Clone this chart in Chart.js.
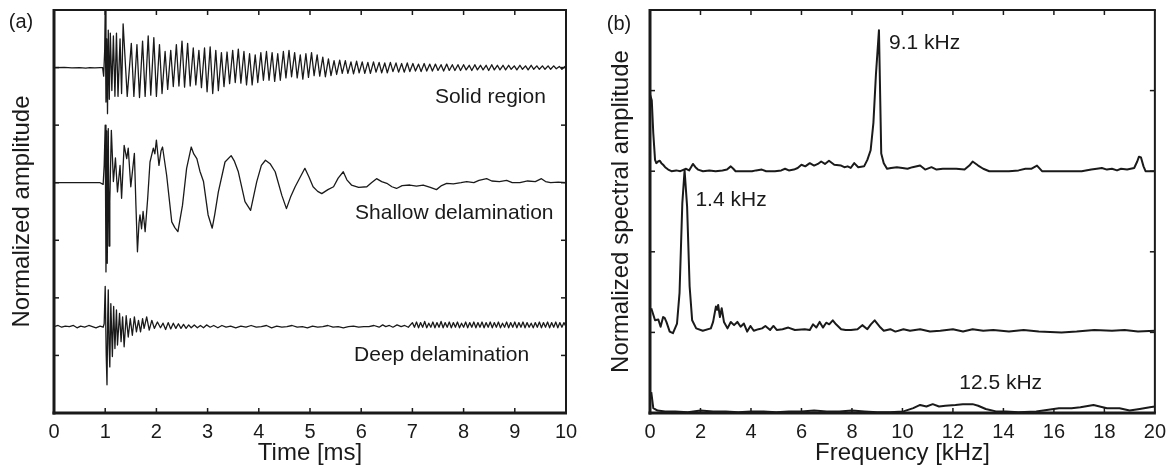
<!DOCTYPE html>
<html><head><meta charset="utf-8">
<script src="https://cdn.jsdelivr.net/npm/chart.js@4.4.0/dist/chart.umd.min.js"></script>
<style>
html,body{margin:0;padding:0;background:#fff;}
#wrap{position:relative;width:1173px;height:468px;overflow:hidden;}
#ca{position:absolute;left:0;top:0;}
#cb{position:absolute;left:590px;top:0;}
</style></head><body>
<div id="wrap"><canvas id="ca" width="590" height="468"></canvas><canvas id="cb" width="583" height="468"></canvas></div>
<script>
// ---------- Panel (a): time signals [time ms, plotted amplitude] ----------
const timeTicks = [0,1,2,3,4,5,6,7,8,9,10];
const solidRegion = [[0,6],[0.2,6.005],[0.35,5.995],[0.5,6.0],[0.62,5.99],[0.7,6.0],[0.8,5.995],[0.9,6.0],[0.95,6.0],
[0.97,5.85],[0.99,6.3],[1.0,7.0],[1.015,5.4],[1.03,6.5],[1.045,5.2],[1.06,6.65],[1.08,5.45],[1.1,6.6],[1.13,5.6],[1.16,6.55],[1.19,5.5],[1.22,6.6],[1.25,5.5],[1.29,6.5],[1.32,5.55],[1.35,6.76],[1.43,5.5],
[1.51,6.42],[1.56,5.50],[1.62,6.40],[1.67,5.48],[1.73,6.46],[1.78,5.50],[1.84,6.55],[1.89,5.52],[1.95,6.52],[2.00,5.50],
[2.06,6.40],[2.11,5.55],[2.17,6.28],[2.22,5.62],[2.28,6.30],[2.33,5.67],[2.39,6.40],[2.44,5.68],[2.50,6.46],[2.55,5.66],
[2.61,6.42],[2.66,5.68],[2.72,6.34],[2.77,5.70],[2.83,6.30],[2.88,5.65],[2.94,6.34],[2.99,5.58],[3.05,6.36],[3.10,5.55],
[3.16,6.30],[3.21,5.60],[3.27,6.26],[3.32,5.67],[3.38,6.27],[3.43,5.72],[3.49,6.30],[3.54,5.74],[3.60,6.32],[3.65,5.73],
[3.71,6.28],[3.76,5.70],[3.82,6.24],[3.87,5.70],[3.93,6.22],[3.98,5.74],[4.04,6.26],[4.09,5.78],[4.15,6.28],[4.20,5.78],
[4.26,6.26],[4.31,5.76],[4.37,6.24],[4.42,5.78],[4.48,6.28],[4.53,5.82],[4.59,6.30],[4.64,5.84],[4.70,6.26],[4.75,5.82],
[4.81,6.22],[4.86,5.80],[4.92,6.24],[4.97,5.83],[5.03,6.26],[5.08,5.86],[5.14,6.22],[5.19,5.85],[5.25,6.18],[5.30,5.84],
[5.36,6.15],[5.41,5.86],[5.47,6.12],[5.52,5.88],[5.58,6.13],[5.63,5.90],[5.69,6.12],[5.74,5.90],[5.80,6.10],[5.85,5.89],
[5.91,6.11],[5.96,5.91],[6.02,6.10],[6.07,5.90],[6.13,6.09],[6.18,5.90],[6.24,6.10],[6.29,5.92],[6.35,6.09],[6.40,5.91],
[6.46,6.08],[6.51,5.91],[6.57,6.09],[6.62,5.93],[6.68,6.08],[6.73,5.92],[6.79,6.07],[6.84,5.92],[6.90,6.08],[6.95,5.93],
[7.01,6.07],[7.06,5.94],[7.12,6.06],[7.17,5.93],[7.23,6.07],[7.28,5.94],[7.34,6.06],[7.39,5.94],[7.45,6.06],[7.50,5.95],
[7.56,6.05],[7.61,5.94],[7.67,6.06],[7.72,5.95],[7.78,6.05],[7.83,5.95],[7.89,6.05],[7.94,5.95],[8.00,6.05],[8.05,5.96],
[8.11,6.04],[8.16,5.95],[8.22,6.05],[8.27,5.96],[8.33,6.04],[8.38,5.96],[8.44,6.04],[8.49,5.95],[8.55,6.05],[8.60,5.96],
[8.66,6.04],[8.71,5.96],[8.77,6.04],[8.82,5.96],[8.88,6.04],[8.93,5.97],[8.99,6.03],[9.04,5.96],[9.10,6.04],[9.15,5.97],
[9.21,6.03],[9.26,5.96],[9.32,6.04],[9.37,5.97],[9.43,6.03],[9.48,5.97],[9.54,6.03],[9.59,5.97],[9.65,6.03],[9.70,5.97],
[9.76,6.03],[9.81,5.98],[9.87,6.02],[9.92,5.97],[9.98,6.02],[10,6.0]];
const shallowDelam = [[0,4],[0.3,4.0],[0.6,4.0],[0.9,4.0],[0.96,3.97],
[0.98,4.3],[1.0,5.0],[1.015,2.45],[1.03,4.9],[1.04,2.6],[1.06,4.94],[1.075,2.9],[1.09,3.67],[1.12,4.91],[1.16,4.02],[1.2,4.43],[1.24,3.84],[1.29,4.3],[1.32,3.73],[1.37,4.65],[1.42,4.42],[1.45,4.6],[1.5,3.93],[1.57,4.51],[1.6,3.61],[1.63,2.8],[1.66,3.3],[1.68,3.44],[1.71,3.2],[1.74,3.5],[1.78,3.15],[1.83,3.73],[1.875,4.36],[1.94,4.6],[1.97,4.5],[2.0,4.74],[2.05,4.3],[2.09,4.55],[2.12,4.62],[2.2,4.13],[2.3,3.32],[2.36,3.22],[2.42,3.15],[2.51,3.61],[2.59,4.25],[2.68,4.62],[2.73,4.5],[2.79,4.42],[2.85,4.2],[2.92,4.02],[3.01,3.44],[3.09,3.21],[3.14,3.45],[3.21,3.84],[3.34,4.36],[3.46,4.47],[3.52,4.38],[3.6,4.19],[3.73,3.67],[3.84,3.52],[3.96,4.02],[4.05,4.3],[4.13,4.39],[4.22,4.33],[4.32,4.19],[4.45,3.78],[4.54,3.55],[4.62,3.75],[4.71,3.93],[4.9,4.25],[4.98,4.1],[5.06,3.93],[5.15,3.85],[5.23,3.81],[5.35,3.88],[5.46,3.93],[5.55,4.08],[5.65,4.19],[5.72,4.05],[5.81,3.96],[5.95,3.92],[6.11,3.93],[6.2,4.0],[6.3,4.07],[6.4,4.02],[6.5,3.99],[6.6,3.93],[6.69,3.9],[6.8,3.95],[6.95,3.96],[7.08,3.94],[7.21,3.96],[7.35,3.92],[7.47,3.88],[7.57,3.95],[7.67,3.99],[7.8,3.98],[7.95,4.0],[8.06,4.02],[8.2,4.0],[8.3,4.04],[8.45,4.07],[8.55,4.03],[8.7,4.02],[8.84,4.04],[8.95,4.0],[9.1,4.0],[9.25,4.03],[9.4,4.02],[9.52,4.07],[9.6,4.02],[9.7,4.0],[9.85,4.01],[10,4.0]];
const deepDelam = [[0,1.5],[0.08,1.52],[0.15,1.49],[0.22,1.51],[0.3,1.5],[0.38,1.52],[0.45,1.48],[0.52,1.51],[0.6,1.49],[0.68,1.52],[0.75,1.5],[0.82,1.48],[0.9,1.51],[0.96,1.49],
[0.98,1.55],[1.0,2.2],[1.02,1.0],[1.035,0.49],[1.05,1.7],[1.06,2.14],[1.075,1.2],[1.09,0.8],[1.11,1.9],[1.14,0.98],[1.165,1.85],[1.19,1.12],[1.22,1.79],[1.24,1.18],[1.28,1.73],[1.31,1.24],[1.34,1.67],[1.37,1.15],[1.41,1.69],[1.45,1.32],[1.49,1.64],[1.53,1.35],[1.57,1.67],[1.61,1.41],[1.65,1.61],[1.69,1.41],[1.73,1.64],[1.76,1.47],[1.81,1.67],[1.86,1.44],[1.91,1.61],[1.96,1.47],[2.02,1.58],[2.08,1.48],[2.13,1.56],[2.18,1.45],[2.23,1.57],[2.28,1.46],[2.33,1.56],[2.38,1.47],[2.43,1.55],[2.48,1.47],[2.53,1.54],[2.58,1.47],[2.63,1.53],[2.68,1.48],[2.74,1.53],[2.8,1.48],[2.86,1.52],[2.92,1.48],[2.98,1.53],[3.05,1.49],[3.12,1.52],[3.2,1.48],[3.28,1.52],[3.36,1.49],[3.45,1.51],[3.55,1.48],[3.65,1.51],[3.75,1.49],[3.85,1.52],[3.95,1.49],[4.05,1.5],[4.15,1.52],[4.25,1.48],[4.35,1.51],[4.45,1.49],[4.55,1.5],[4.65,1.52],[4.75,1.49],[4.85,1.5],[4.95,1.48],[5.05,1.51],[5.15,1.49],[5.25,1.5],[5.35,1.52],[5.45,1.49],[5.55,1.5],[5.65,1.48],[5.75,1.5],[5.85,1.51],[5.95,1.49],[6.05,1.5],[6.15,1.5],[6.25,1.52],[6.35,1.49],[6.42,1.53],[6.48,1.5],[6.55,1.52],[6.62,1.49],[6.7,1.53],[6.78,1.5],[6.85,1.52],[6.92,1.49],
[7.00,1.57],[7.04,1.49],[7.08,1.58],[7.12,1.48],[7.16,1.57],[7.20,1.49],[7.24,1.59],[7.28,1.48],[7.32,1.56],[7.36,1.49],[7.40,1.58],[7.44,1.48],[7.48,1.57],[7.52,1.49],[7.56,1.59],[7.60,1.48],[7.64,1.57],[7.68,1.49],[7.72,1.58],[7.76,1.48],[7.80,1.57],[7.84,1.49],[7.88,1.58],[7.92,1.48],[7.96,1.56],[8.00,1.49],[8.04,1.58],[8.08,1.48],[8.12,1.57],[8.16,1.49],[8.20,1.58],[8.24,1.48],[8.28,1.57],[8.32,1.49],[8.36,1.58],[8.40,1.48],[8.44,1.57],[8.48,1.49],[8.52,1.58],[8.56,1.48],[8.60,1.57],[8.64,1.49],[8.68,1.58],[8.72,1.48],[8.76,1.56],[8.80,1.49],[8.84,1.58],[8.88,1.48],[8.92,1.57],[8.96,1.49],[9.00,1.58],[9.04,1.48],[9.08,1.57],[9.12,1.49],[9.16,1.58],[9.20,1.48],[9.24,1.57],[9.28,1.49],[9.32,1.56],[9.36,1.48],[9.40,1.57],[9.44,1.49],[9.48,1.58],[9.52,1.48],[9.56,1.57],[9.60,1.49],[9.64,1.58],[9.68,1.48],[9.72,1.57],[9.76,1.49],[9.80,1.58],[9.84,1.48],[9.88,1.57],[9.92,1.49],[9.96,1.57],[10.00,1.5]];

// ---------- Panel (b): spectra [frequency kHz, plotted amplitude] ----------
const freqTicks = [0,2,4,6,8,10,12,14,16,18,20];
const solidSpectrum = [[0,3.95],[0.07,3.88],[0.13,3.47],[0.2,3.14],[0.25,3.1],[0.32,3.12],[0.39,3.13],[0.45,3.1],[0.52,3.08],[0.6,3.05],[0.72,3.02],[0.85,3.0],[1.04,3.01],[1.2,3.0],[1.43,3.03],[1.55,3.01],[1.7,3.09],[1.8,3.05],[1.9,3.02],[2.1,3.0],[2.35,3.01],[2.6,3.0],[2.87,3.01],[3.05,3.02],[3.2,3.06],[3.3,3.03],[3.39,3.0],[3.7,3.0],[4.04,3.0],[4.2,3.01],[4.43,3.02],[4.6,3.0],[4.95,3.0],[5.2,3.01],[5.35,3.03],[5.5,3.01],[5.7,3.02],[5.85,3.04],[6.0,3.08],[6.15,3.06],[6.33,3.1],[6.5,3.07],[6.65,3.09],[6.78,3.12],[6.93,3.09],[7.09,3.13],[7.3,3.08],[7.57,3.07],[7.7,3.05],[7.83,3.06],[7.95,3.04],[8.09,3.1],[8.25,3.05],[8.48,3.06],[8.61,3.14],[8.74,3.26],[8.85,3.6],[8.95,4.2],[9.07,4.75],[9.16,3.22],[9.26,3.1],[9.39,3.03],[9.55,3.04],[9.78,3.05],[10.0,3.04],[10.2,3.03],[10.4,3.05],[10.7,3.07],[10.9,3.02],[11.15,3.05],[11.35,3.02],[11.6,3.03],[11.85,3.03],[12.13,3.03],[12.46,3.02],[12.65,3.07],[12.78,3.12],[13.0,3.07],[13.2,3.03],[13.44,3.0],[13.8,3.0],[14.22,3.0],[14.6,3.01],[14.87,3.03],[15.1,3.03],[15.33,3.07],[15.53,3.0],[15.9,3.0],[16.31,3.0],[16.7,3.0],[17.1,3.0],[17.48,3.02],[17.7,3.03],[17.9,3.04],[18.1,3.02],[18.3,3.03],[18.5,3.01],[18.66,3.03],[18.9,3.02],[19.18,3.04],[19.3,3.12],[19.37,3.18],[19.45,3.17],[19.55,3.06],[19.63,3.0],[20,3.0]];
const shallowSpectrum = [[0.05,1.3],[0.2,1.15],[0.33,1.16],[0.42,1.07],[0.52,1.19],[0.58,1.18],[0.65,1.13],[0.78,1.01],[0.91,0.99],[1.07,1.11],[1.17,1.49],[1.28,2.6],[1.37,3.01],[1.47,2.56],[1.57,1.57],[1.67,1.15],[1.83,1.05],[2.09,1.02],[2.41,1.05],[2.5,1.13],[2.61,1.32],[2.66,1.28],[2.7,1.34],[2.77,1.19],[2.84,1.3],[2.93,1.13],[3.07,1.05],[3.2,1.13],[3.33,1.09],[3.46,1.13],[3.59,1.07],[3.72,1.11],[3.85,1.01],[3.98,1.08],[4.11,1.02],[4.3,1.04],[4.44,1.05],[4.57,1.08],[4.76,1.03],[4.89,1.08],[5.02,1.03],[5.25,1.04],[5.48,1.06],[5.74,1.03],[6.13,1.04],[6.33,1.03],[6.46,1.1],[6.59,1.06],[6.72,1.13],[6.85,1.06],[6.98,1.12],[7.1,1.1],[7.24,1.15],[7.37,1.1],[7.57,1.04],[7.75,1.03],[7.96,1.03],[8.22,1.04],[8.41,1.09],[8.61,1.04],[8.75,1.1],[8.9,1.15],[9.13,1.06],[9.26,1.02],[9.52,1.04],[9.72,1.01],[10.04,1.04],[10.3,1.02],[10.7,1.04],[11.09,1.01],[11.5,1.02],[12.0,1.04],[12.4,1.01],[12.78,1.04],[13.2,1.02],[13.6,1.03],[14.22,1.01],[14.8,1.03],[15.4,1.01],[16.3,1.0],[16.9,1.01],[17.6,1.03],[18.3,1.02],[18.8,1.03],[19.33,1.01],[20,1.02]];
const deepSpectrum = [[0.05,0.26],[0.13,0.06],[0.3,0.03],[0.6,0.02],[1.0,0.02],[1.5,0.01],[2.0,0.03],[2.5,0.02],[3.0,0.02],[3.5,0.01],[4.0,0.02],[4.5,0.02],[5.0,0.01],[5.5,0.02],[6.0,0.02],[6.5,0.03],[7.0,0.02],[7.5,0.02],[8.0,0.03],[8.5,0.02],[9.0,0.01],[9.5,0.01],[10.04,0.02],[10.43,0.06],[10.7,0.1],[10.95,0.08],[11.2,0.11],[11.45,0.08],[11.7,0.09],[12.1,0.1],[12.39,0.11],[12.78,0.11],[13.0,0.09],[13.3,0.05],[13.7,0.02],[14.1,0.02],[14.6,0.01],[15.3,0.02],[16.2,0.06],[16.7,0.06],[17.05,0.07],[17.57,0.1],[18.1,0.06],[18.6,0.06],[19.0,0.03],[19.4,0.05],[19.8,0.07],[20,0.08]];

const FONT = "'Liberation Sans', Arial, Helvetica, sans-serif";
const INK = '#1a1a1a';

function pts(arr){ return arr.map(p => ({x:p[0], y:p[1]})); }

const framePlugin = {
  id: 'frame',
  afterDatasetsDraw(chart, args, opts) {
    const {ctx, chartArea:a, scales:{x, y}} = chart;
    ctx.save();
    ctx.strokeStyle = INK;
    ctx.lineCap = 'butt';
    const seg = (x1,y1,x2,y2) => { ctx.beginPath(); ctx.moveTo(x1,y1); ctx.lineTo(x2,y2); ctx.stroke(); };
    const tl = 5;
    ctx.lineWidth = 1.5;
    x.ticks.forEach(t => {
      if (t.value <= x.min || t.value >= x.max) return;
      const px = x.getPixelForValue(t.value);
      seg(px, a.bottom, px, a.bottom - tl);
      seg(px, a.top, px, a.top + tl);
    });
    y.ticks.forEach(t => {
      if (t.value <= y.min || t.value >= y.max) return;
      const py = y.getPixelForValue(t.value);
      seg(a.left, py, a.left + tl, py);
      seg(a.right, py, a.right - tl, py);
    });
    ctx.lineWidth = 2;
    seg(a.left, a.top, a.right + 1, a.top);
    seg(a.right, a.top, a.right, a.bottom);
    ctx.lineWidth = 3;
    seg(a.left, a.top - 1, a.left, a.bottom + 1.5);
    seg(a.left - 1.5, a.bottom, a.right + 1, a.bottom);
    // annotations
    ctx.fillStyle = INK;
    ctx.textBaseline = 'middle';
    ctx.textAlign = 'left';
    ctx.font = '21px ' + FONT;
    (opts.notes || []).forEach(n => {
      ctx.fillText(n.text, x.getPixelForValue(n.x), y.getPixelForValue(n.y));
    });
    ctx.font = '20px ' + FONT;
    ctx.textAlign = 'center';
    ctx.fillText(opts.panel, opts.panelX, opts.panelY);
    ctx.restore();
  }
};

function makeChart(id, cfg) {
  return new Chart(document.getElementById(id), {
    type: 'scatter',
    data: { datasets: cfg.series.map(s => ({
      data: pts(s), showLine: true, pointRadius: 0, borderColor: INK, borderWidth: cfg.lw,
      borderJoinStyle: 'round', tension: 0, fill: false
    })) },
    options: {
      responsive: false, animation: false, events: [],
      layout: { padding: { top: 10, right: cfg.padR, bottom: 0, left: 0 } },
      plugins: { legend: {display:false}, tooltip: {enabled:false},
        frame: { notes: cfg.notes, panel: cfg.panel, panelX: cfg.panelX, panelY: cfg.panelY } },
      scales: {
        x: { type: 'linear', min: cfg.xmin, max: cfg.xmax,
          afterBuildTicks: s => { s.ticks = cfg.xticks.map(v => ({value: v})); },
          ticks: { color: INK, font: {family: FONT, size: 20}, padding: 7, maxRotation: 0, autoSkip: false },
          grid: { display: false, drawTicks: false }, border: { display: false },
          title: { display: true, text: cfg.xtitle, color: INK, font: {family: FONT, size: 24}, padding: {top: 0, bottom: 0} },
          afterFit: s => { s.height = 55; } },
        y: { type: 'linear', min: cfg.ymin, max: cfg.ymax,
          ticks: { display: false, stepSize: 1 },
          grid: { display: false, drawTicks: false }, border: { display: false },
          title: { display: true, text: cfg.ytitle, color: INK, font: {family: FONT, size: 24}, padding: {top: cfg.ytitlePad, bottom: 0} },
          afterFit: s => { s.width = cfg.yw; } }
      }
    },
    plugins: [framePlugin]
  });
}

makeChart('ca', {
  series: [solidRegion, shallowDelam, deepDelam], lw: 1.3,
  xmin: 0, xmax: 10, xticks: timeTicks, ymin: 0, ymax: 7,
  xtitle: 'Time [ms]', ytitle: 'Normalized amplitude', ytitlePad: 8, yw: 54, padR: 24,
  panel: '(a)', panelX: 21, panelY: 22,
  notes: [
    {text: 'Solid region', x: 7.44, y: 5.49},
    {text: 'Shallow delamination', x: 5.88, y: 3.47},
    {text: 'Deep delamination', x: 5.86, y: 1.01}
  ]
});

makeChart('cb', {
  series: [solidSpectrum, shallowSpectrum, deepSpectrum], lw: 2,
  xmin: 0, xmax: 20, xticks: freqTicks, ymin: 0, ymax: 5,
  xtitle: 'Frequency [kHz]', ytitle: 'Normalized spectral amplitude', ytitlePad: 17, yw: 60, padR: 12,
  panel: '(b)', panelX: 29, panelY: 24,
  notes: [
    {text: '9.1 kHz', x: 9.47, y: 4.59},
    {text: '1.4 kHz', x: 1.8, y: 2.64},
    {text: '12.5 kHz', x: 12.25, y: 0.37}
  ]
});
</script>
</body></html>
